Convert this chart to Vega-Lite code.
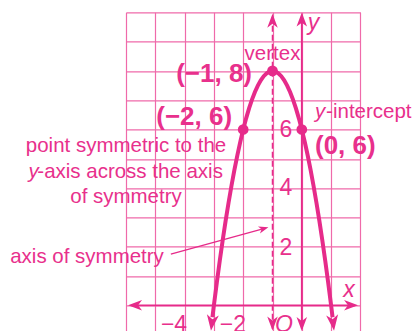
{
  "$schema": "https://vega.github.io/schema/vega-lite/v6.json",
  "width": 234.4,
  "height": 322.3,
  "autosize": "none",
  "padding": {"left": 126, "top": 12.3, "right": 55.6, "bottom": 0},
  "background": "white",
  "config": {
    "view": {"stroke": null},
    "axis": {"grid": true, "labels": false, "ticks": false, "domain": false, "title": null, "gridColor": "#ef6aaa", "gridWidth": 1.2, "gridOpacity": 1},
    "axisX": {"tickCount": 8},
    "axisY": {"tickCount": 11},
    "text": {"font": "Liberation Sans", "color": "#e8308c"}
  },
  "datasets": {
    "curve": [
      {"x": -3.05, "y": -0.405}, {"x": -3.0, "y": 0}, {"x": -2.9, "y": 0.78}, {"x": -2.8, "y": 1.52},
      {"x": -2.7, "y": 2.22}, {"x": -2.6, "y": 2.88}, {"x": -2.5, "y": 3.5}, {"x": -2.4, "y": 4.08},
      {"x": -2.3, "y": 4.62}, {"x": -2.2, "y": 5.12}, {"x": -2.1, "y": 5.58}, {"x": -2.0, "y": 6},
      {"x": -1.9, "y": 6.38}, {"x": -1.8, "y": 6.72}, {"x": -1.7, "y": 7.02}, {"x": -1.6, "y": 7.28},
      {"x": -1.5, "y": 7.5}, {"x": -1.4, "y": 7.68}, {"x": -1.3, "y": 7.82}, {"x": -1.2, "y": 7.92},
      {"x": -1.1, "y": 7.98}, {"x": -1.0, "y": 8}, {"x": -0.9, "y": 7.98}, {"x": -0.8, "y": 7.92},
      {"x": -0.7, "y": 7.82}, {"x": -0.6, "y": 7.68}, {"x": -0.5, "y": 7.5}, {"x": -0.4, "y": 7.28},
      {"x": -0.3, "y": 7.02}, {"x": -0.2, "y": 6.72}, {"x": -0.1, "y": 6.38}, {"x": 0, "y": 6},
      {"x": 0.1, "y": 5.58}, {"x": 0.2, "y": 5.12}, {"x": 0.3, "y": 4.62}, {"x": 0.4, "y": 4.08},
      {"x": 0.5, "y": 3.5}, {"x": 0.6, "y": 2.88}, {"x": 0.7, "y": 2.22}, {"x": 0.8, "y": 1.52},
      {"x": 0.9, "y": 0.78}, {"x": 1.0, "y": 0}, {"x": 1.05, "y": -0.405}
    ],
    "points": [{"x": -1, "y": 8}, {"x": -2, "y": 6}, {"x": 0, "y": 6}],
    "axes": [{"x": -5.8, "x2": 1.8, "y": 0, "y2": 0}, {"x": 0, "x2": 0, "y": -0.8, "y2": 9.85}],
    "sym": [{"x": -1, "x2": -1, "y": -0.8, "y2": 9.85}],
    "pointer": [{"x": -4.47, "x2": -1.3, "y": 1.75, "y2": 2.62}],
    "tipUp": [{"x": 0, "y": 9.99}, {"x": -1, "y": 9.95}],
    "tipDown": [{"x": 0, "y": -0.88}, {"x": -1, "y": -0.86}],
    "tipLeft": [{"x": -5.93, "y": 0}],
    "tipRight": [{"x": 1.92, "y": 0}],
    "tipCurveL": [{"x": -3.1, "y": -0.87}],
    "tipCurveR": [{"x": 1.1, "y": -0.87}],
    "tipPointer": [{"x": -1.14, "y": 2.66}],
    "regCenter": [
      {"t": "vertex", "x": -1, "y": 8.37},
      {"t": "point symmetric to the", "x": -6, "y": 5.24},
      {"t": "-axis across the axis", "x": -5.86, "y": 4.33},
      {"t": "of symmetry", "x": -6, "y": 3.48},
      {"t": "axis of symmetry", "x": -7.33, "y": 1.45}
    ],
    "regLeft": [{"t": "-intercept", "x": 0.83, "y": 6.38}],
    "itRight": [{"t": "y", "x": -8.98, "y": 4.33}],
    "itLeft": [{"t": "y", "x": 0.45, "y": 6.38}],
    "boldRight": [{"t": "(−1, 8)", "x": -1.7, "y": 7.63}, {"t": "(−2, 6)", "x": -2.38, "y": 6.15}],
    "boldLeft": [{"t": "(0, 6)", "x": 0.45, "y": 5.16}],
    "ticks": [
      {"t": "6", "x": -0.54, "y": 5.75}, {"t": "4", "x": -0.54, "y": 3.76}, {"t": "2", "x": -0.54, "y": 1.72},
      {"t": "−4", "x": -4.36, "y": -0.91}, {"t": "−2", "x": -2.35, "y": -0.91}
    ],
    "tickIt": [{"t": "O", "x": -0.61, "y": -0.91}, {"t": "x", "x": 1.61, "y": 0.29}, {"t": "y", "x": 0.4, "y": 9.4}]
  },
  "layer": [
    {
      "data": {"name": "axes"},
      "mark": {"type": "rule", "color": "#e62b8a", "strokeWidth": 1.8},
      "encoding": {
        "x": {"field": "x", "type": "quantitative", "scale": {"domain": [-6, 2], "nice": false, "zero": false}},
        "x2": {"field": "x2"},
        "y": {"field": "y", "type": "quantitative", "scale": {"domain": [-1, 10], "nice": false, "zero": false}},
        "y2": {"field": "y2"}
      }
    },
    {
      "data": {"name": "sym"},
      "mark": {"type": "rule", "color": "#e62b8a", "strokeWidth": 1.5, "strokeDash": [6, 3]},
      "encoding": {"x": {"field": "x", "type": "quantitative"}, "x2": {"field": "x2"}, "y": {"field": "y", "type": "quantitative"}, "y2": {"field": "y2"}}
    },
    {
      "data": {"name": "pointer"},
      "mark": {"type": "rule", "color": "#e62b8a", "strokeWidth": 1.3},
      "encoding": {"x": {"field": "x", "type": "quantitative"}, "x2": {"field": "x2"}, "y": {"field": "y", "type": "quantitative"}, "y2": {"field": "y2"}}
    },
    {
      "data": {"name": "curve"},
      "mark": {"type": "line", "color": "#e62b8a", "strokeWidth": 4},
      "encoding": {"x": {"field": "x", "type": "quantitative"}, "y": {"field": "y", "type": "quantitative"}}
    },
    {
      "data": {"name": "tipUp"},
      "mark": {"type": "point", "shape": "M0,0L0.6,1.6L0,1.15L-0.6,1.6Z", "filled": true, "color": "#e62b8a", "opacity": 1, "size": 306, "angle": 0},
      "encoding": {"x": {"field": "x", "type": "quantitative"}, "y": {"field": "y", "type": "quantitative"}}
    },
    {
      "data": {"name": "tipDown"},
      "mark": {"type": "point", "shape": "M0,0L0.6,1.6L0,1.15L-0.6,1.6Z", "filled": true, "color": "#e62b8a", "opacity": 1, "size": 306, "angle": 180},
      "encoding": {"x": {"field": "x", "type": "quantitative"}, "y": {"field": "y", "type": "quantitative"}}
    },
    {
      "data": {"name": "tipLeft"},
      "mark": {"type": "point", "shape": "M0,0L0.6,1.6L0,1.15L-0.6,1.6Z", "filled": true, "color": "#e62b8a", "opacity": 1, "size": 306, "angle": 270},
      "encoding": {"x": {"field": "x", "type": "quantitative"}, "y": {"field": "y", "type": "quantitative"}}
    },
    {
      "data": {"name": "tipRight"},
      "mark": {"type": "point", "shape": "M0,0L0.6,1.6L0,1.15L-0.6,1.6Z", "filled": true, "color": "#e62b8a", "opacity": 1, "size": 306, "angle": 90},
      "encoding": {"x": {"field": "x", "type": "quantitative"}, "y": {"field": "y", "type": "quantitative"}}
    },
    {
      "data": {"name": "tipCurveL"},
      "mark": {"type": "point", "shape": "M0,0L0.6,1.6L0,1.15L-0.6,1.6Z", "filled": true, "color": "#e62b8a", "opacity": 1, "size": 400, "angle": 186.8},
      "encoding": {"x": {"field": "x", "type": "quantitative"}, "y": {"field": "y", "type": "quantitative"}}
    },
    {
      "data": {"name": "tipCurveR"},
      "mark": {"type": "point", "shape": "M0,0L0.6,1.6L0,1.15L-0.6,1.6Z", "filled": true, "color": "#e62b8a", "opacity": 1, "size": 400, "angle": 173.2},
      "encoding": {"x": {"field": "x", "type": "quantitative"}, "y": {"field": "y", "type": "quantitative"}}
    },
    {
      "data": {"name": "tipPointer"},
      "mark": {"type": "point", "shape": "M0,0L0.6,1.6L0,1.15L-0.6,1.6Z", "filled": true, "color": "#e62b8a", "opacity": 1, "size": 150, "angle": 74.4},
      "encoding": {"x": {"field": "x", "type": "quantitative"}, "y": {"field": "y", "type": "quantitative"}}
    },
    {
      "data": {"name": "points"},
      "mark": {"type": "point", "shape": "circle", "filled": true, "color": "#e62b8a", "opacity": 1, "size": 115},
      "encoding": {"x": {"field": "x", "type": "quantitative"}, "y": {"field": "y", "type": "quantitative"}}
    },
    {
      "data": {"name": "regCenter"},
      "mark": {"type": "text", "fontSize": 20.5, "align": "center", "baseline": "alphabetic"},
      "encoding": {"x": {"field": "x", "type": "quantitative"}, "y": {"field": "y", "type": "quantitative"}, "text": {"field": "t"}}
    },
    {
      "data": {"name": "regLeft"},
      "mark": {"type": "text", "fontSize": 20.5, "align": "left", "baseline": "alphabetic"},
      "encoding": {"x": {"field": "x", "type": "quantitative"}, "y": {"field": "y", "type": "quantitative"}, "text": {"field": "t"}}
    },
    {
      "data": {"name": "itRight"},
      "mark": {"type": "text", "fontSize": 20.5, "fontStyle": "italic", "align": "right", "baseline": "alphabetic"},
      "encoding": {"x": {"field": "x", "type": "quantitative"}, "y": {"field": "y", "type": "quantitative"}, "text": {"field": "t"}}
    },
    {
      "data": {"name": "itLeft"},
      "mark": {"type": "text", "fontSize": 20.5, "fontStyle": "italic", "align": "left", "baseline": "alphabetic"},
      "encoding": {"x": {"field": "x", "type": "quantitative"}, "y": {"field": "y", "type": "quantitative"}, "text": {"field": "t"}}
    },
    {
      "data": {"name": "boldRight"},
      "mark": {"type": "text", "fontSize": 26, "fontWeight": "bold", "align": "right", "baseline": "alphabetic"},
      "encoding": {"x": {"field": "x", "type": "quantitative"}, "y": {"field": "y", "type": "quantitative"}, "text": {"field": "t"}}
    },
    {
      "data": {"name": "boldLeft"},
      "mark": {"type": "text", "fontSize": 26, "fontWeight": "bold", "align": "left", "baseline": "alphabetic"},
      "encoding": {"x": {"field": "x", "type": "quantitative"}, "y": {"field": "y", "type": "quantitative"}, "text": {"field": "t"}}
    },
    {
      "data": {"name": "ticks"},
      "mark": {"type": "text", "fontSize": 23, "align": "center", "baseline": "alphabetic"},
      "encoding": {"x": {"field": "x", "type": "quantitative"}, "y": {"field": "y", "type": "quantitative"}, "text": {"field": "t"}}
    },
    {
      "data": {"name": "tickIt"},
      "mark": {"type": "text", "fontSize": 23, "fontStyle": "italic", "align": "center", "baseline": "alphabetic"},
      "encoding": {"x": {"field": "x", "type": "quantitative"}, "y": {"field": "y", "type": "quantitative"}, "text": {"field": "t"}}
    }
  ]
}
